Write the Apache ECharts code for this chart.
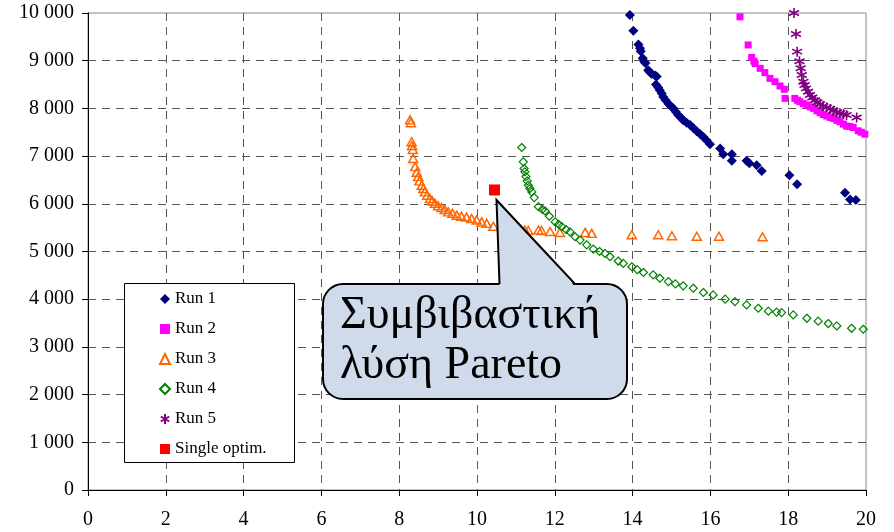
<!DOCTYPE html>
<html>
<head>
<meta charset="utf-8">
<script src="https://cdn.jsdelivr.net/npm/echarts@6/dist/echarts.min.js"></script>
<style>html,body{margin:0;padding:0;background:#fff;}#chart{width:894px;height:532px;}</style>
</head>
<body>
<div id="chart"></div>
<script>
var seriesNames = ['Run 1', 'Run 2', 'Run 3', 'Run 4', 'Run 5', 'Single optim.'];
var xTicks = [0, 2, 4, 6, 8, 10, 12, 14, 16, 18, 20];
var yTicks = [0, 1000, 2000, 3000, 4000, 5000, 6000, 7000, 8000, 9000, 10000];
var calloutLines = ['Συμβιβαστική', 'λύση Pareto'];

var run1 = [[13.93,9960],[14.02,9630],[14.15,9340],[14.19,9260],[14.21,9200],[14.26,9050],[14.30,8980],[14.33,8950],[14.40,8800],[14.45,8760],[14.49,8720],[14.58,8690],[14.62,8670],[14.60,8500],[14.66,8440],[14.70,8380],[14.75,8310],[14.79,8240],[14.85,8170],[14.92,8100],[14.98,8050],[15.05,8000],[15.11,7930],[15.17,7860],[15.24,7810],[15.30,7750],[15.39,7700],[15.48,7650],[15.56,7590],[15.65,7520],[15.74,7460],[15.82,7400],[15.90,7330],[15.99,7250],[16.25,7160],[16.33,7040],[16.55,7040],[16.55,6900],[16.93,6900],[17.00,6850],[17.19,6810],[17.32,6690],[18.03,6600],[18.23,6410],[19.46,6230],[19.59,6090],[19.74,6080]];
var run2 = [[16.76,9920],[16.97,9330],[17.06,9070],[17.12,8990],[17.15,8940],[17.28,8840],[17.40,8750],[17.53,8630],[17.66,8560],[17.79,8470],[17.90,8400],[17.92,8210],[18.17,8210],[18.24,8170],[18.30,8140],[18.39,8100],[18.48,8070],[18.57,8030],[18.65,8000],[18.74,7950],[18.82,7910],[18.90,7870],[18.99,7840],[19.08,7810],[19.16,7790],[19.25,7750],[19.33,7720],[19.42,7670],[19.50,7630],[19.58,7620],[19.67,7600],[19.80,7530],[19.88,7500],[19.97,7460]];
var run3 = [[8.28,7760],[8.30,7700],[8.32,7300],[8.33,7220],[8.35,7140],[8.36,6950],[8.41,6780],[8.45,6660],[8.49,6570],[8.52,6480],[8.58,6390],[8.62,6320],[8.66,6250],[8.72,6180],[8.79,6110],[8.85,6060],[8.92,6010],[9.00,5960],[9.09,5920],[9.17,5880],[9.26,5830],[9.37,5800],[9.48,5760],[9.60,5740],[9.73,5720],[9.86,5690],[9.99,5660],[10.12,5620],[10.25,5590],[10.42,5530],[11.23,5450],[11.32,5440],[11.58,5450],[11.66,5440],[11.88,5420],[12.13,5400],[12.78,5400],[12.95,5380],[13.98,5350],[14.66,5350],[15.01,5330],[15.65,5320],[16.22,5320],[17.34,5310]];
var run4 = [[11.15,7180],[11.19,6880],[11.21,6740],[11.23,6670],[11.26,6570],[11.29,6480],[11.32,6390],[11.36,6320],[11.41,6250],[11.47,6130],[11.58,5940],[11.68,5880],[11.75,5850],[11.86,5740],[12.01,5620],[12.10,5570],[12.18,5520],[12.29,5460],[12.39,5410],[12.52,5310],[12.65,5240],[12.82,5140],[12.99,5050],[13.15,5000],[13.29,4960],[13.42,4890],[13.63,4800],[13.76,4750],[13.98,4680],[14.12,4620],[14.28,4560],[14.53,4510],[14.70,4440],[14.92,4370],[15.10,4320],[15.30,4280],[15.56,4230],[15.82,4140],[16.07,4090],[16.38,4000],[16.63,3950],[16.93,3880],[17.23,3810],[17.49,3750],[17.70,3730],[17.83,3720],[18.13,3670],[18.48,3600],[18.77,3540],[19.03,3490],[19.25,3440],[19.63,3390],[19.93,3370]];
var run5 = [[18.15,10000],[18.20,9560],[18.23,9190],[18.29,8990],[18.32,8840],[18.35,8700],[18.39,8560],[18.42,8490],[18.46,8420],[18.51,8350],[18.56,8280],[18.62,8230],[18.69,8170],[18.75,8130],[18.82,8090],[18.90,8050],[18.99,8020],[19.08,7990],[19.16,7950],[19.25,7920],[19.33,7900],[19.42,7880],[19.50,7860],[19.76,7810]];
var singleOptim = [[10.45,6290]];

var serif = '"Liberation Serif", "Times New Roman", serif';
var chart = echarts.init(document.getElementById('chart'));

function fmt(v) { return String(v).replace(/\B(?=(\d{3})+(?!\d))/g, ' '); }

var axisCommon = {
  type: 'value',
  axisLine: { show: true, onZero: false, lineStyle: { color: '#000', width: 1 } },
  axisTick: { show: true, inside: false, length: 6, lineStyle: { color: '#000' } },
  splitLine: { show: true, showMinLine: false, showMaxLine: false, lineStyle: { color: '#555', type: [8, 6], width: 1 } },
  axisLabel: { color: '#000', fontFamily: serif, fontSize: 20 }
};

var asterisk = 'path://M5,0L5,10M0.8,2.5L9.2,7.5M9.2,2.5L0.8,7.5';
var calloutFill = '#cfdbeb';

chart.setOption({
  animation: false,
  backgroundColor: '#fff',
  grid: { left: 88, right: 28, top: 13, bottom: 42, show: true, borderColor: '#888', borderWidth: 1, backgroundColor: 'transparent' },
  xAxis: Object.assign({}, axisCommon, {
    min: xTicks[0], max: xTicks[xTicks.length - 1], interval: xTicks[1] - xTicks[0],
    axisLabel: Object.assign({}, axisCommon.axisLabel, { margin: 20 })
  }),
  yAxis: Object.assign({}, axisCommon, {
    min: yTicks[0], max: yTicks[yTicks.length - 1], interval: yTicks[1] - yTicks[0],
    axisLabel: Object.assign({}, axisCommon.axisLabel, { margin: 14, formatter: fmt })
  }),
  legend: {
    orient: 'vertical', left: 159, top: 290, padding: 0,
    itemWidth: 10, itemHeight: 10, itemGap: 12, z: 5,
    textStyle: { fontFamily: serif, fontSize: 17, color: '#000', lineHeight: 18 },
    data: seriesNames
  },
  graphic: [
    { type: 'rect', z: 3, shape: { x: 124.5, y: 283.5, width: 170, height: 179 }, style: { fill: '#fff', stroke: '#000', lineWidth: 1 } },
    { type: 'rect', z: 100, shape: { x: 323, y: 284, width: 304, height: 115, r: 20 }, style: { fill: calloutFill, stroke: '#000', lineWidth: 2 } },
    { type: 'polygon', z: 101, shape: { points: [[499.5, 286.5], [496.5, 200], [575, 286.5]] }, style: { fill: calloutFill, stroke: null } },
    { type: 'polyline', z: 102, shape: { points: [[499.5, 284], [496.5, 200], [575, 284]] }, style: { fill: null, stroke: '#000', lineWidth: 2 } },
    { type: 'text', z: 103, x: 340, y: 316, style: { text: calloutLines[0], font: '46px ' + serif, fill: '#000', verticalAlign: 'middle', align: 'left' } },
    { type: 'text', z: 103, x: 340, y: 366, style: { text: calloutLines[1], font: '46px ' + serif, fill: '#000', verticalAlign: 'middle', align: 'left' } }
  ],
  series: [
    { name: seriesNames[0], type: 'scatter', data: run1, symbol: 'diamond', symbolSize: 10, itemStyle: { color: '#000080', opacity: 1 } },
    { name: seriesNames[1], type: 'scatter', data: run2, symbol: 'rect', symbolSize: 7, itemStyle: { color: '#ff00ff', opacity: 1 } },
    { name: seriesNames[2], type: 'scatter', data: run3, symbol: 'triangle', symbolSize: [9, 8], itemStyle: { color: 'transparent', borderColor: '#ff6600', borderWidth: 1.5, opacity: 1 } },
    { name: seriesNames[3], type: 'scatter', data: run4, symbol: 'diamond', symbolSize: 8, itemStyle: { color: 'transparent', borderColor: '#008000', borderWidth: 1.2, opacity: 1 } },
    { name: seriesNames[4], type: 'scatter', data: run5, symbol: asterisk, symbolSize: 10, itemStyle: { color: 'transparent', borderColor: '#800080', borderWidth: 1.6, opacity: 1 } },
    { name: seriesNames[5], type: 'scatter', data: singleOptim, symbol: 'rect', symbolSize: 11, itemStyle: { color: '#ff0000', opacity: 1 } }
  ]
});
</script>
</body>
</html>
